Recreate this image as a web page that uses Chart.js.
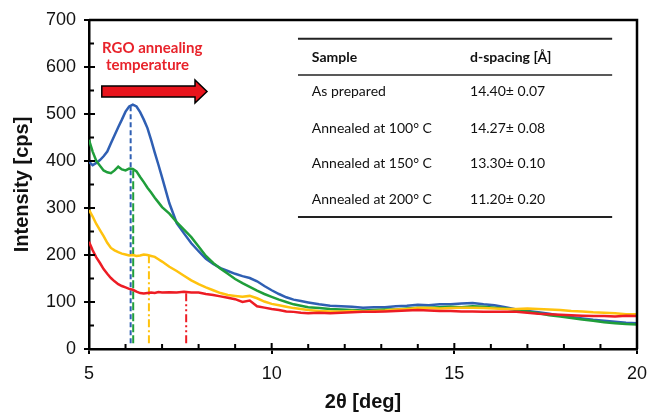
<!DOCTYPE html>
<html>
<head>
<meta charset="utf-8">
<script src="https://cdn.jsdelivr.net/npm/chart.js@4"></script>
<style>
  html, body { margin: 0; padding: 0; background: #fff; }
  #wrap { width: 651px; height: 415px; }
</style>
</head>
<body>
<div id="wrap"><canvas id="xrd"></canvas></div>
<script>
// 2-theta grid shared by all four scans
const twoTheta = [
  5.0, 5.1, 5.2, 5.3, 5.4, 5.5, 5.6, 5.7, 5.8, 5.9, 6.0, 6.1, 6.2, 6.3, 6.4, 6.5, 6.6, 6.7, 6.8, 6.9, 7.0,
  7.2, 7.4, 7.6, 7.8, 8.0, 8.2, 8.4, 8.6, 8.8, 9.0, 9.2, 9.4, 9.6, 9.8, 10.0, 10.2, 10.4, 10.6, 10.8, 11.0,
  11.3, 11.6, 11.9, 12.2, 12.5, 12.8, 13.1, 13.4, 13.7, 14.0, 14.3, 14.6, 14.9, 15.2, 15.5, 15.8, 16.1, 16.4,
  16.7, 17.0, 17.3, 17.6, 17.9, 18.2, 18.5, 18.8, 19.1, 19.4, 19.7, 20.0,
];

// intensity [cps]
const asPrepared = [
  398, 391, 396, 402, 410, 420, 438, 455, 472, 488, 505, 516, 520, 516, 504, 488, 470, 445, 418, 392, 365,
  310, 268, 246, 225, 208, 192, 181, 172, 166, 160, 155, 151, 144, 134, 125, 117, 110, 105, 102, 99,
  95, 92, 91, 90, 88, 89, 89, 91, 92, 94, 93, 95, 95, 97, 98, 95, 93, 89,
  84, 81, 78, 75, 71, 68, 65, 62, 60, 58, 56, 55,
];
const annealed100 = [
  445, 420, 400, 390, 380, 376, 374, 380, 388, 382, 380, 384, 383, 378, 366, 355, 343, 333, 322, 312, 302,
  288, 270, 254, 238, 218, 198, 183, 171, 160, 149, 140, 132, 124, 117, 111, 105, 100, 95, 92, 89,
  87, 85, 84, 83, 82, 83, 84, 84, 86, 88, 88, 89, 90, 89, 91, 90, 88, 86,
  83, 80, 76, 72, 69, 66, 63, 60, 57, 55, 53, 52,
];
const annealed150 = [
  296, 282, 266, 253, 240, 226, 215, 210, 206, 203, 201, 199, 200, 198, 199, 201, 200, 198, 196, 191, 186,
  175, 166, 156, 146, 138, 131, 125, 119, 115, 113, 111, 113, 108, 101, 96, 93, 90, 87, 85, 83,
  81, 80, 80, 81, 80, 81, 82, 84, 85, 87, 87, 86, 87, 88, 88, 87, 86, 85,
  85, 86, 85, 84, 83, 81, 80, 78, 77, 76, 74, 74,
];
const annealed200 = [
  228, 210, 195, 183, 170, 160, 151, 144, 138, 134, 131, 128, 126, 122, 119, 118, 119, 120, 119, 121, 120,
  121, 120, 122, 120, 120, 117, 115, 112, 109, 106, 100, 103, 91, 88, 85, 83, 80, 79, 77, 76,
  77, 76, 77, 78, 79, 79, 80, 81, 82, 83, 82, 81, 81, 80, 80, 79, 79, 79,
  79, 77, 75, 74, 73, 72, 71, 70, 70, 69, 71, 70,
];

// peak markers (vertical drop lines)
const peakX = [6.14, 6.21, 6.64, 7.66];
const peakTop = [520, 385, 200, 120];

// inset table
const sampleNames = ['As prepared', 'Annealed at 100\u00b0 C', 'Annealed at 150\u00b0 C', 'Annealed at 200\u00b0 C'];
const dSpacings = ['14.40\u00b1 0.07', '14.27\u00b1 0.08', '13.30\u00b1 0.10', '11.20\u00b1 0.20'];

const colors = ['#2f5fb3', '#1f9e3a', '#ffc20e', '#ed1c24'];
const dashes = [[5, 3], [8, 3], [8, 3, 2, 3], [8, 3, 2, 3, 2, 3]];
const series = [asPrepared, annealed100, annealed150, annealed200];

function pairs(ys) {
  return ys.map((v, i) => ({ x: twoTheta[i], y: v }));
}

const datasets = [];
series.forEach((ys, i) => {
  datasets.push({
    data: pairs(ys),
    borderColor: colors[i],
    borderWidth: 2.5,
    pointRadius: 0,
    tension: 0,
    order: 3 - i,
  });
});
peakX.forEach((px, i) => {
  datasets.push({
    data: [{ x: px, y: 12 }, { x: px, y: peakTop[i] }],
    borderColor: colors[i],
    borderWidth: 2,
    borderDash: dashes[i],
    pointRadius: 0,
    order: 10,
  });
});

// frame, inward ticks, arrow note and table
const overlay = {
  id: 'overlay',
  afterDraw(chart) {
    const { ctx, chartArea: a, scales: { x, y } } = chart;
    ctx.save();
    ctx.setLineDash([]);
    ctx.strokeStyle = '#000';
    ctx.lineWidth = 2.5;
    ctx.beginPath();
    ctx.moveTo(a.left, a.top);
    ctx.lineTo(a.right, a.top);
    ctx.lineTo(a.right, a.bottom);
    ctx.stroke();

    ctx.lineWidth = 2;
    ctx.beginPath();
    for (let v = 5; v <= 20; v += 1) {
      const p = x.getPixelForValue(v);
      const len = v % 5 === 0 ? 6 : 5;
      ctx.moveTo(p, a.bottom);
      ctx.lineTo(p, a.bottom - len);
    }
    for (let v = 0; v <= 700; v += 50) {
      const p = y.getPixelForValue(v);
      const len = v % 100 === 0 ? 6 : 5;
      ctx.moveTo(a.left, p);
      ctx.lineTo(a.left + len, p);
    }
    ctx.stroke();

    // annealing note
    ctx.fillStyle = '#e8232b';
    ctx.font = 'bold 15px Lato';
    ctx.textAlign = 'center';
    ctx.textBaseline = 'middle';
    ctx.fillText('RGO annealing', x.getPixelForValue(6.73), y.getPixelForValue(640));
    ctx.fillText('temperature', x.getPixelForValue(6.6), y.getPixelForValue(604));

    const x0 = x.getPixelForValue(5.35), x1 = x.getPixelForValue(8.23);
    const cy = y.getPixelForValue(548);
    ctx.beginPath();
    ctx.moveTo(x0, cy - 5.5);
    ctx.lineTo(x1 - 12, cy - 5.5);
    ctx.lineTo(x1 - 12, cy - 11.5);
    ctx.lineTo(x1, cy);
    ctx.lineTo(x1 - 12, cy + 11.5);
    ctx.lineTo(x1 - 12, cy + 5.5);
    ctx.lineTo(x0, cy + 5.5);
    ctx.closePath();
    ctx.fillStyle = '#e8141c';
    ctx.fill();
    ctx.lineWidth = 1.5;
    ctx.strokeStyle = '#000';
    ctx.stroke();

    // table
    const tl = x.getPixelForValue(10.72), tr = x.getPixelForValue(19.32);
    const c1 = x.getPixelForValue(11.1), c2 = x.getPixelForValue(15.43);
    const rule = (v, w) => {
      const p = y.getPixelForValue(v);
      ctx.lineWidth = w;
      ctx.beginPath();
      ctx.moveTo(tl, p);
      ctx.lineTo(tr, p);
      ctx.stroke();
    };
    ctx.strokeStyle = '#222';
    rule(660, 2);
    rule(583, 1.5);
    rule(281, 2);

    ctx.fillStyle = '#111';
    ctx.textAlign = 'left';
    ctx.font = 'bold 14px Lato';
    ctx.fillText('Sample', c1, y.getPixelForValue(621));
    ctx.fillText('d-spacing [\u00c5]', c2, y.getPixelForValue(621));
    ctx.font = '14px Lato';
    const rowY = [547, 470, 394, 319];
    sampleNames.forEach((s, i) => {
      ctx.fillText(s, c1, y.getPixelForValue(rowY[i]));
      ctx.fillText(dSpacings[i], c2, y.getPixelForValue(rowY[i]));
    });
    ctx.restore();
  },
};

new Chart(document.getElementById('xrd'), {
  type: 'line',
  data: { datasets: datasets },
  options: {
    responsive: true,
    maintainAspectRatio: false,
    animation: false,
    events: [],
    layout: { padding: { top: 20, right: 14, left: 0, bottom: 0 } },
    plugins: { legend: { display: false }, tooltip: { enabled: false } },
    scales: {
      x: {
        type: 'linear',
        min: 5,
        max: 20,
        ticks: { stepSize: 5, color: '#111', font: { family: 'Liberation Sans', size: 18 }, padding: 9 },
        grid: { drawOnChartArea: false, drawTicks: true, tickLength: 5, color: '#000', lineWidth: 2 },
        border: { color: '#000', width: 2.5 },
        title: {
          display: true,
          text: '2\u03b8 [deg]',
          color: '#111',
          font: { family: 'Liberation Sans', size: 20, weight: 'bold' },
          padding: { top: 0, bottom: 1 },
        },
        afterFit(scale) {
          scale.height = 66;
          scale.paddingLeft = 0;
          scale.paddingRight = 0;
        },
      },
      y: {
        min: 0,
        max: 700,
        ticks: { stepSize: 100, color: '#111', font: { family: 'Liberation Sans', size: 18 }, padding: 8 },
        grid: { drawOnChartArea: false, drawTicks: true, tickLength: 5, color: '#000', lineWidth: 2 },
        border: { color: '#000', width: 2.5 },
        title: {
          display: true,
          text: 'Intensity [cps]',
          color: '#111',
          font: { family: 'Liberation Sans', size: 20, weight: 'bold' },
          padding: { top: 10, bottom: 0 },
        },
        afterFit(scale) { scale.width = 89; },
      },
    },
  },
  plugins: [overlay],
});
</script>
</body>
</html>
